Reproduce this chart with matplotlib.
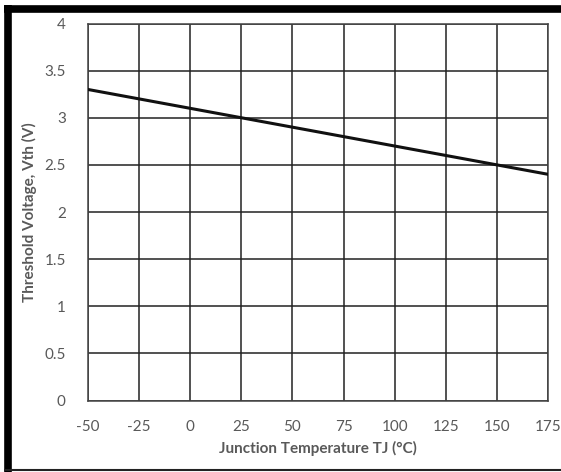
import matplotlib
matplotlib.use("Agg")
import matplotlib.pyplot as plt
from matplotlib.lines import Line2D

temps = [-50, -25, 0, 25, 50, 75, 100, 125, 150, 175]
vth = [3.3, 3.2, 3.1, 3.0, 2.9, 2.8, 2.7, 2.6, 2.5, 2.4]
xticks = [-50, -25, 0, 25, 50, 75, 100, 125, 150, 175]
yticks = [0, 0.5, 1, 1.5, 2, 2.5, 3, 3.5, 4]
ytick_labels = ["0", "0.5", "1", "1.5", "2", "2.5", "3", "3.5", "4"]

plt.rcParams['font.family'] = ['Lato', 'DejaVu Sans']
plt.rcParams['axes.unicode_minus'] = False

fig = plt.figure(figsize=(5.61, 4.72), dpi=100)
ax = fig.add_axes([88/561, 1-400.5/472, (548-88)/561, (400.5-23.5)/472])

ax.plot(temps, vth, color='#111111', linewidth=2.2, zorder=3)

ax.set_xlim(-50, 175)
ax.set_ylim(0, 4)
ax.set_xticks(xticks)
ax.set_yticks(yticks)
ax.set_yticklabels(ytick_labels)
ax.grid(True, color='#222222', linewidth=1.1)
ax.set_axisbelow(True)
ax.tick_params(length=0, labelsize=11, colors='#595959')
ax.tick_params(axis='x', pad=14)
ax.tick_params(axis='y', pad=16)
for s in ax.spines.values():
    s.set_color('#444444')
    s.set_linewidth(1.1)

ax.set_xlabel("Junction Temperature TJ (°C)", fontsize=11, fontweight='bold', color='#595959')
ax.set_ylabel("Threshold Voltage, Vth (V)", fontsize=11, fontweight='bold', color='#595959')
ax.yaxis.set_label_coords(-0.11, 0.5)
ax.xaxis.set_label_coords(0.5, -0.108)

# outer border
fig.add_artist(Line2D([7.5/561, 7.5/561], [0, 1-5/472], transform=fig.transFigure, color='black', linewidth=5.5, solid_capstyle='butt'))
fig.add_artist(Line2D([4/561, 1], [1-8.5/472, 1-8.5/472], transform=fig.transFigure, color='black', linewidth=5.5, solid_capstyle='butt'))
fig.add_artist(Line2D([4/561, 1], [2.5/472, 2.5/472], transform=fig.transFigure, color='#222222', linewidth=1.5, solid_capstyle='butt'))

fig.savefig("out.png", dpi=100)
